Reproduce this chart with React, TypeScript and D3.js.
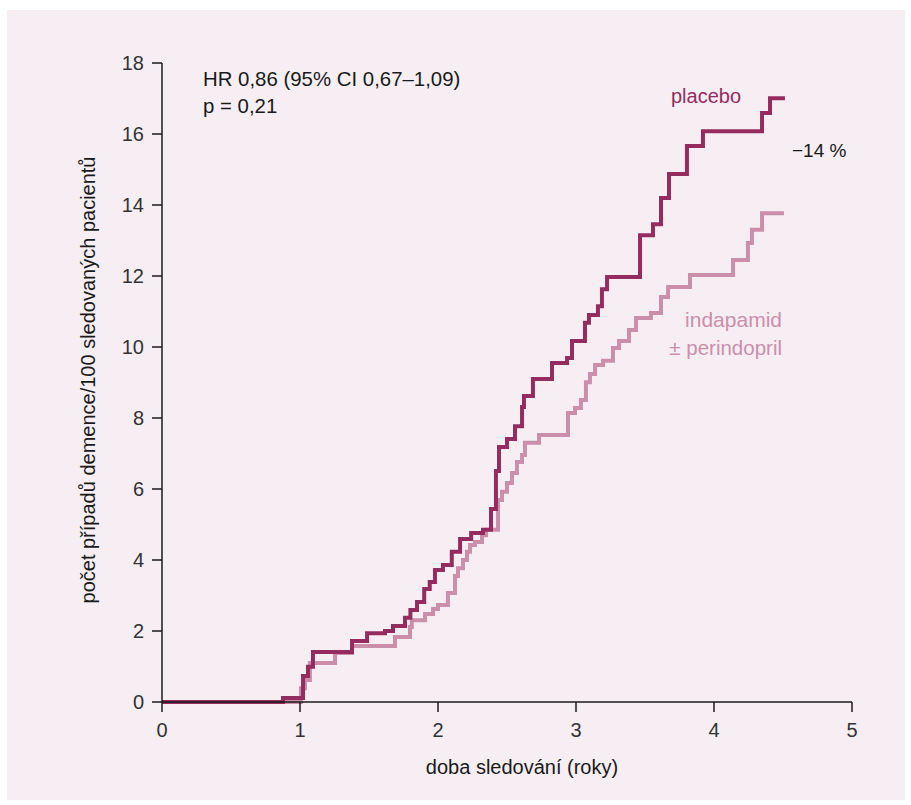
import React from "react";
import * as d3 from "d3";

const xTicks = [0, 1, 2, 3, 4, 5];
const yTicks = [0, 2, 4, 6, 8, 10, 12, 14, 16, 18];

const placeboTimes = [0, 0.877, 1.022, 1.058, 1.094, 1.377, 1.486, 1.616, 1.674, 1.761, 1.8, 1.848, 1.9, 1.94, 1.978, 2.036, 2.1, 2.16, 2.24, 2.326, 2.384, 2.42, 2.442, 2.5, 2.558, 2.609, 2.623, 2.688, 2.826, 2.935, 2.971, 3.065, 3.094, 3.159, 3.188, 3.225, 3.464, 3.558, 3.616, 3.674, 3.804, 3.92, 4.348, 4.406, 4.514];
const placeboValues = [0, 0.11, 0.73, 0.99, 1.41, 1.72, 1.94, 2.0, 2.14, 2.37, 2.59, 2.82, 3.18, 3.38, 3.72, 3.86, 4.23, 4.59, 4.76, 4.85, 5.44, 6.51, 7.18, 7.41, 7.77, 8.31, 8.62, 9.1, 9.55, 9.69, 10.17, 10.68, 10.9, 11.15, 11.63, 11.97, 13.15, 13.46, 14.2, 14.87, 15.66, 16.08, 16.59, 17.01, 17.01];

const indapTimes = [0, 1.007, 1.036, 1.072, 1.254, 1.377, 1.688, 1.797, 1.81, 1.906, 1.964, 2.0, 2.072, 2.123, 2.145, 2.181, 2.21, 2.232, 2.268, 2.319, 2.348, 2.435, 2.464, 2.5, 2.536, 2.572, 2.609, 2.63, 2.732, 2.942, 2.993, 3.036, 3.072, 3.101, 3.138, 3.196, 3.268, 3.312, 3.384, 3.435, 3.543, 3.616, 3.667, 3.826, 4.138, 4.246, 4.275, 4.348, 4.507];
const indapValues = [0, 0.39, 0.62, 1.1, 1.38, 1.58, 1.83, 2.11, 2.3, 2.48, 2.62, 2.73, 3.07, 3.55, 3.77, 4.0, 4.23, 4.42, 4.51, 4.7, 4.85, 5.69, 5.92, 6.17, 6.45, 6.76, 6.96, 7.3, 7.52, 8.14, 8.28, 8.51, 9.01, 9.24, 9.49, 9.61, 9.97, 10.17, 10.48, 10.82, 10.96, 11.41, 11.69, 12.03, 12.45, 12.93, 13.3, 13.77, 13.77];

const hrText = "HR 0,86 (95% CI 0,67–1,09)";
const pText = "p = 0,21";
const xLabel = "doba sledování (roky)";
const yLabel = "počet případů demence/100 sledovaných pacientů";

const DARK = "#952c60";
const LIGHT = "#cc8fab";
const FONT = "'Liberation Sans', Arial, sans-serif";

export default function App() {
  const x = d3.scaleLinear().domain([0, 5]).range([162, 852]);
  const y = d3.scaleLinear().domain([0, 18]).range([702, 63]);
  const line = d3
    .line<[number, number]>()
    .x((d) => x(d[0]))
    .y((d) => y(d[1]))
    .curve(d3.curveStepAfter);
  const placebo = placeboTimes.map((t, i) => [t, placeboValues[i]] as [number, number]);
  const indap = indapTimes.map((t, i) => [t, indapValues[i]] as [number, number]);

  return (
    <svg
      width={911}
      height={805}
      style={{ position: "absolute", left: 0, top: 0 }}
      fontFamily={FONT}
    >
      <rect x={0} y={0} width={911} height={805} fill="#ffffff" />
      <rect x={7} y={10} width={898} height={790} fill="#f6eef3" />

      {/* curves */}
      <path d={line(indap) || ""} fill="none" stroke={LIGHT} strokeWidth={4} strokeLinejoin="miter" />
      <path d={line(placebo) || ""} fill="none" stroke={DARK} strokeWidth={4} strokeLinejoin="miter" />

      {/* axes */}
      <line x1={x(0)} x2={x(5)} y1={y(0)} y2={y(0)} stroke="#1a1a1a" strokeWidth={1.5} />
      <line x1={x(0)} x2={x(0)} y1={y(0)} y2={y(18)} stroke="#1a1a1a" strokeWidth={1.5} />
      {xTicks.map((t) => (
        <g key={"x" + t}>
          <line x1={x(t)} x2={x(t)} y1={y(0)} y2={y(0) + 10} stroke="#1a1a1a" strokeWidth={1.5} />
          <text x={x(t)} y={737} textAnchor="middle" fontSize={20} fill="#333">
            {t}
          </text>
        </g>
      ))}
      {yTicks.map((v) => (
        <g key={"y" + v}>
          <line x1={x(0) - 10} x2={x(0)} y1={y(v)} y2={y(v)} stroke="#1a1a1a" strokeWidth={1.5} />
          <text x={144} y={y(v) + 7} textAnchor="end" fontSize={20} fill="#333">
            {v}
          </text>
        </g>
      ))}

      <text x={522} y={774} textAnchor="middle" fontSize={20} fill="#1a1a1a">
        {xLabel}
      </text>
      <text
        transform={`translate(95, 380) rotate(-90)`}
        textAnchor="middle"
        fontSize={20}
        fill="#1a1a1a"
      >
        {yLabel}
      </text>

      <text x={203} y={86} fontSize={20.4} fill="#1a1a1a">
        {hrText}
      </text>
      <text x={203} y={113} fontSize={20.4} fill="#1a1a1a">
        {pText}
      </text>

      <text x={706} y={103} textAnchor="middle" fontSize={20} fill={DARK}>
        placebo
      </text>
      <text x={792} y={157} fontSize={19} fill="#1a1a1a">
        −14 %
      </text>
      <text x={782} y={327} textAnchor="end" fontSize={21} fill={LIGHT}>
        indapamid
      </text>
      <text x={782} y={355} textAnchor="end" fontSize={20.5} fill={LIGHT}>
        ± perindopril
      </text>
    </svg>
  );
}
